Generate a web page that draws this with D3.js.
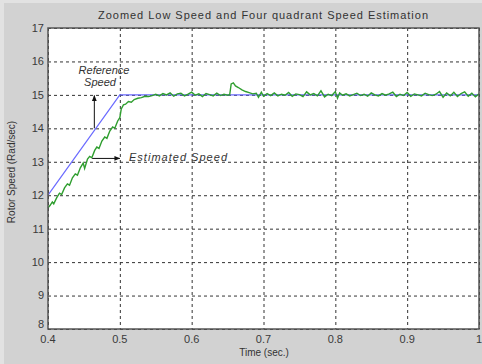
<!DOCTYPE html>
<html>
<head>
<meta charset="utf-8">
<script src="https://cdn.jsdelivr.net/npm/d3@7"></script>
<style>
  html, body { margin: 0; padding: 0; background: #e2e2e2; }
  svg { display: block; font-family: "Liberation Sans", Arial, sans-serif; }
</style>
</head>
<body>
<svg id="chart"></svg>
<script>
// values
const xTicks = [0.4, 0.5, 0.6, 0.7, 0.8, 0.9, 1.0];
const xTickLabels = ['0.4', '0.5', '0.6', '0.7', '0.8', '0.9', '1'];
const yTicks = [8, 9, 10, 11, 12, 13, 14, 15, 16, 17];

// reference speed: ramp then flat
const refTime = [0.4, 0.5, 1.0];
const refSpeed = [12, 15, 15];

// estimated speed: ramp with small jags, then noise round 15 and a bump near 0.655
const estTime = [
  0.400, 0.403, 0.406, 0.408, 0.412, 0.416, 0.419, 0.423, 0.427, 0.430,
  0.434, 0.438, 0.441, 0.445, 0.449, 0.451, 0.455, 0.458, 0.461, 0.465,
  0.468, 0.471, 0.475, 0.479, 0.482, 0.486, 0.490, 0.493, 0.497, 0.500,
  0.502, 0.505, 0.508, 0.512, 0.516, 0.520, 0.525, 0.530, 0.535, 0.540,
  0.545, 0.550, 0.555, 0.560, 0.565, 0.570, 0.575, 0.580, 0.585, 0.590,
  0.595, 0.600, 0.605, 0.610, 0.615, 0.620, 0.625, 0.630, 0.635, 0.640,
  0.645, 0.650, 0.653, 0.655, 0.658, 0.661, 0.665, 0.670, 0.675, 0.680,
  0.685, 0.690, 0.693, 0.697, 0.700, 0.705, 0.710, 0.715, 0.720, 0.725,
  0.730, 0.735, 0.740, 0.745, 0.750, 0.755, 0.760, 0.765, 0.770, 0.775,
  0.780, 0.785, 0.790, 0.795, 0.800, 0.803, 0.806, 0.810, 0.815, 0.820,
  0.825, 0.830, 0.835, 0.840, 0.845, 0.850, 0.855, 0.860, 0.865, 0.870,
  0.875, 0.880, 0.885, 0.890, 0.895, 0.900, 0.905, 0.910, 0.915, 0.920,
  0.925, 0.930, 0.935, 0.940, 0.945, 0.950, 0.955, 0.960, 0.965, 0.970,
  0.975, 0.980, 0.985, 0.990, 0.995, 1.000
];
const estSpeed = [
  11.62, 11.70, 11.80, 11.74, 11.92, 12.06, 12.02, 12.22, 12.34, 12.30,
  12.52, 12.64, 12.60, 12.82, 12.96, 12.80, 13.08, 13.16, 13.12, 13.34,
  13.44, 13.40, 13.62, 13.74, 13.70, 13.92, 14.04, 14.00, 14.22, 14.32,
  14.58, 14.70, 14.72, 14.80, 14.78, 14.86, 14.90, 14.92, 14.96, 14.95,
  14.98, 15.02, 14.97, 15.04, 15.00, 15.06, 14.96, 15.03, 15.05, 14.97,
  15.02, 15.08, 14.99, 15.03, 14.95, 15.04, 15.01, 14.97, 15.05, 14.98,
  15.02, 14.99, 15.01, 15.33, 15.36, 15.27, 15.22, 15.15, 15.10, 15.07,
  15.03, 15.05, 14.93, 15.08, 14.96, 15.04, 14.98, 15.06, 14.97, 15.02,
  14.99, 15.07, 14.96, 15.03, 15.01, 14.95, 15.09, 15.00, 15.04, 14.97,
  15.12, 14.94, 15.02, 14.98, 15.10, 14.90, 15.06, 14.99, 15.03, 14.97,
  15.01, 15.05, 14.98, 15.02, 14.96, 15.06, 15.00, 14.97, 15.04, 14.99,
  15.03, 15.08, 14.95, 15.02, 14.98, 15.07, 14.96, 15.03, 15.00, 14.97,
  15.05, 15.01, 14.98, 15.02, 15.10, 14.93, 15.06, 14.97, 15.08, 14.95,
  15.04, 15.09, 14.96, 15.05, 14.94, 15.03
];

const width = 482, height = 364;
const margin = { top: 28, right: 3, bottom: 35, left: 48 };
const w = width - margin.left - margin.right;
const h = height - margin.top - margin.bottom;

const svg = d3.select('#chart').attr('width', width).attr('height', height);

// figure background (light strip on the left/top edges)
svg.append('rect').attr('x', 4).attr('y', 3).attr('width', width - 4).attr('height', height - 3)
  .attr('fill', '#d2d2d2');

const x = d3.scaleLinear().domain([0.4, 1.0]).range([0, w]);
const y = d3.scaleLinear().domain([8, 17]).range([h, 0]);

const g = svg.append('g').attr('transform', `translate(${margin.left},${margin.top})`);

g.append('rect').attr('width', w).attr('height', h).attr('fill', '#ffffff');

// dotted grid
g.append('g')
  .call(d3.axisBottom(x).tickValues(xTicks).tickSize(h).tickFormat(''))
  .call(a => a.select('.domain').remove())
  .call(a => a.selectAll('line').attr('stroke', '#333').attr('stroke-dasharray', '3,3'));
g.append('g')
  .call(d3.axisLeft(y).tickValues(yTicks).tickSize(-w).tickFormat(''))
  .call(a => a.select('.domain').remove())
  .call(a => a.selectAll('line').attr('stroke', '#333').attr('stroke-dasharray', '3,3'));

// tick labels
const tickFont = 11;
g.append('g').selectAll('text').data(yTicks).join('text')
  .attr('x', -4).attr('y', d => Math.min(y(d), h - 5)).attr('dy', '0.35em')
  .attr('text-anchor', 'end').attr('font-size', tickFont).attr('fill', '#3a3a3a')
  .text(d => d);
g.append('g').selectAll('text').data(xTicks).join('text')
  .attr('x', d => x(d)).attr('y', h + 14)
  .attr('text-anchor', 'middle').attr('font-size', tickFont).attr('fill', '#3a3a3a')
  .text((d, i) => xTickLabels[i]);

// series
const line = d3.line().x(d => x(d[0])).y(d => y(d[1]));
g.append('path').datum(refTime.map((t, i) => [t, refSpeed[i]]))
  .attr('d', line).attr('fill', 'none').attr('stroke', '#6b6bff').attr('stroke-width', 1.2);
g.append('path').datum(estTime.map((t, i) => [t, estSpeed[i]]))
  .attr('d', line).attr('fill', 'none').attr('stroke', '#2f9e2f').attr('stroke-width', 1.4);

// axes box
g.append('rect').attr('width', w).attr('height', h)
  .attr('fill', 'none').attr('stroke', '#555').attr('stroke-width', 1.5);

// annotations
svg.append('defs').append('marker')
  .attr('id', 'head').attr('viewBox', '0 0 10 10').attr('refX', 9).attr('refY', 5)
  .attr('markerWidth', 6).attr('markerHeight', 6).attr('orient', 'auto')
  .append('path').attr('d', 'M0,1 L10,5 L0,9 Z').attr('fill', '#111');

g.append('line')
  .attr('x1', x(0.4645)).attr('y1', y(14)).attr('x2', x(0.4645)).attr('y2', y(14.98))
  .attr('stroke', '#111').attr('stroke-width', 1).attr('marker-end', 'url(#head)');
g.append('line')
  .attr('x1', x(0.4615)).attr('y1', y(13.1)).attr('x2', x(0.5)).attr('y2', y(13.1))
  .attr('stroke', '#111').attr('stroke-width', 1).attr('marker-end', 'url(#head)');

const noteStyle = t => t.attr('font-size', 11).attr('font-style', 'italic').attr('fill', '#333');
svg.append('text').attr('x', 104).attr('y', 74).attr('text-anchor', 'middle').call(noteStyle).text('Reference');
svg.append('text').attr('x', 100).attr('y', 86).attr('text-anchor', 'middle').call(noteStyle).text('Speed');
svg.append('text').attr('x', 129).attr('y', 161).attr('textLength', 98).call(noteStyle).text('Estimated Speed');

// title and axis labels
svg.append('text').attr('x', 263).attr('y', 19).attr('text-anchor', 'middle')
  .attr('font-size', 11).attr('fill', '#333').attr('textLength', 330).attr('lengthAdjust', 'spacing')
  .text('Zoomed Low Speed and Four quadrant Speed Estimation');
svg.append('text').attr('transform', `translate(15,${172}) rotate(-90)`)
  .attr('text-anchor', 'middle').attr('font-size', 10).attr('fill', '#333')
  .text('Rotor Speed (Rad/sec)');
svg.append('text').attr('x', 264).attr('y', 356).attr('text-anchor', 'middle')
  .attr('font-size', 10).attr('fill', '#333').text('Time (sec.)');
</script>
</body>
</html>
